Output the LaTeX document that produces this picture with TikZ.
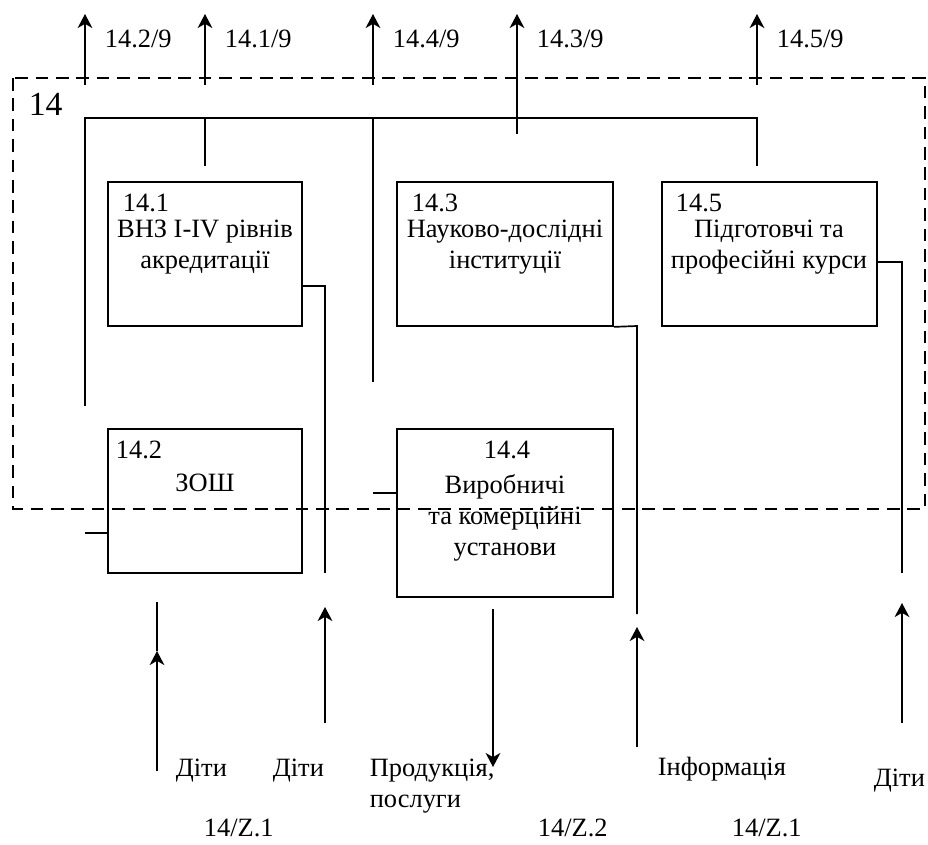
\documentclass[tikz,border=0pt]{standalone}
\usepackage{fontspec}
\setmainfont{Liberation Serif}
\usetikzlibrary{arrows.meta}
\tikzset{
  box/.style={draw, inner sep=0pt, minimum width=4.85cm, minimum height=3.6cm},
  txt/.style={inner sep=0pt, font=\fontsize{18.8pt}{22pt}\selectfont},
  arr/.style={-{Stealth[length=10pt,width=10.5pt,inset=3pt]}},
  frame/.style={dash pattern=on 9pt off 5.5pt}
}
\begin{document}
\begin{tikzpicture}[x=0.025cm, y=-0.025cm, line width=1.2pt]
  \useasboundingbox (0,0) rectangle (928,844);
  \draw[frame] (13,78) rectangle (925,509);
  \node[txt, anchor=base west, font=\fontsize{24pt}{28pt}\selectfont] (g14) at (28,115) {14};

  \node[box] (b1) at (205,254) {};
  \node[box, minimum width=5.4cm] (b3) at (505,254) {};
  \node[box, minimum width=5.375cm] (b5) at (769.5,254) {};
  \node[box] (b2) at (205,501) {};
  \node[box, minimum width=5.4cm, minimum height=4.2cm] (b4) at (505,513) {};

  \node[txt, anchor=base west] (n1) at (122,211) {14.1};
  \node[txt, align=center] (t1) at (205,247) {ВНЗ І-ІV рівнів\\акредитації};
  \node[txt, anchor=base west] (n3) at (411,211) {14.3};
  \node[txt, align=center] (t3) at (505,247) {Науково-дослідні\\інституції};
  \node[txt, anchor=base west] (n5) at (675,211) {14.5};
  \node[txt, align=center] (t5) at (769,247) {Підготовчі та\\професійні курси};
  \node[txt, anchor=base west] (n2) at (115,458) {14.2};
  \node[txt, anchor=base] (t2) at (205,491) {ЗОШ};
  \node[txt, anchor=base] (n4) at (507,458) {14.4};
  \node[txt, align=center] (t4) at (505,518) {Виробничі\\та комерційні\\установи};

  % outputs
  \node[txt, anchor=base west] (o2) at (104,47) {14.2/9};
  \node[txt, anchor=base west] (o1) at (224,47) {14.1/9};
  \node[txt, anchor=base west] (o4) at (392,47) {14.4/9};
  \node[txt, anchor=base west] (o3) at (536,47) {14.3/9};
  \node[txt, anchor=base west] (o5) at (776,47) {14.5/9};

  % inputs
  \node[txt, anchor=base west] (l1) at (175,776) {Діти};
  \node[txt, anchor=base west] (l2) at (272,776) {Діти};
  \node[txt, anchor=west, align=left] (l3) at (369,786) {Продукція,\\послуги};
  \node[txt, anchor=base west] (l4) at (657,775) {Інформація};
  \node[txt, anchor=base west] (l5) at (873,786) {Діти};
  \node[txt, anchor=base west] (z1) at (203,836) {14/Z.1};
  \node[txt, anchor=base west] (z2) at (537,836) {14/Z.2};
  \node[txt, anchor=base west] (z3) at (731,836) {14/Z.1};

  \coordinate (u2) at (85,14);
  \coordinate (u1) at (205,14);
  \coordinate (u4) at (373,14);
  \coordinate (u3) at (517,14);
  \coordinate (u5) at (757,14);
  \coordinate (a2) at (85,85);
  \coordinate (a1) at (205,85);
  \coordinate (a4) at (373,85);
  \coordinate (a3) at (517,134);
  \coordinate (a5) at (757,85);
  \coordinate (h2) at (85,118);
  \coordinate (h1) at (205,118);
  \coordinate (h4) at (373,118);
  \coordinate (h5) at (757,118);
  \coordinate (e2) at (85,406);
  \coordinate (e1) at (205,166);
  \coordinate (e4) at (373,382);
  \coordinate (e5) at (757,166);
  \coordinate (k1) at (325,286);
  \coordinate (k1e) at (325,573);
  \coordinate (k3) at (637,326);
  \coordinate (k3e) at (637,614);
  \coordinate (k5) at (902,262);
  \coordinate (k5e) at (902,573);
  \coordinate (s2) at (85,533);
  \coordinate (s4) at (373,493);

  \draw (e2) -- (h2) -- (h5) -- (e5);
  \draw (h1) -- (e1);
  \draw (h4) -- (e4);
  \draw (b1.east |- k1) -- (k1) -- (k1e);
  \draw (b3.south east) -- (k3) -- (k3e);
  \draw (b5.east |- k5) -- (k5) -- (k5e);
  \draw (s2) -- (s2 -| b2.west);
  \draw (s4) -- (s4 -| b4.west);

  \begin{scope}[arr]
    \draw (a2) -- (u2);
    \draw (a1) -- (u1);
    \draw (a4) -- (u4);
    \draw (a3) -- (u3);
    \draw (a5) -- (u5);
  \end{scope}

  \coordinate (d1) at (157,771);
  \coordinate (m1) at (157,651);
  \coordinate (t1e) at (157,602);
  \coordinate (d2) at (325,723);
  \coordinate (m2) at (325,607);
  \coordinate (p4) at (493,609);
  \coordinate (p4e) at (493,767);
  \coordinate (d3) at (637,747);
  \coordinate (m3) at (637,627);
  \coordinate (d5) at (902,723);
  \coordinate (m5) at (902,603);

  \draw[arr] (d1) -- (m1);
  \draw (m1) -- (t1e);
  \draw[arr] (d2) -- (m2);
  \draw[arr] (p4) -- (p4e);
  \draw[arr] (d3) -- (m3);
  \draw[arr] (d5) -- (m5);
\end{tikzpicture}
\end{document}
